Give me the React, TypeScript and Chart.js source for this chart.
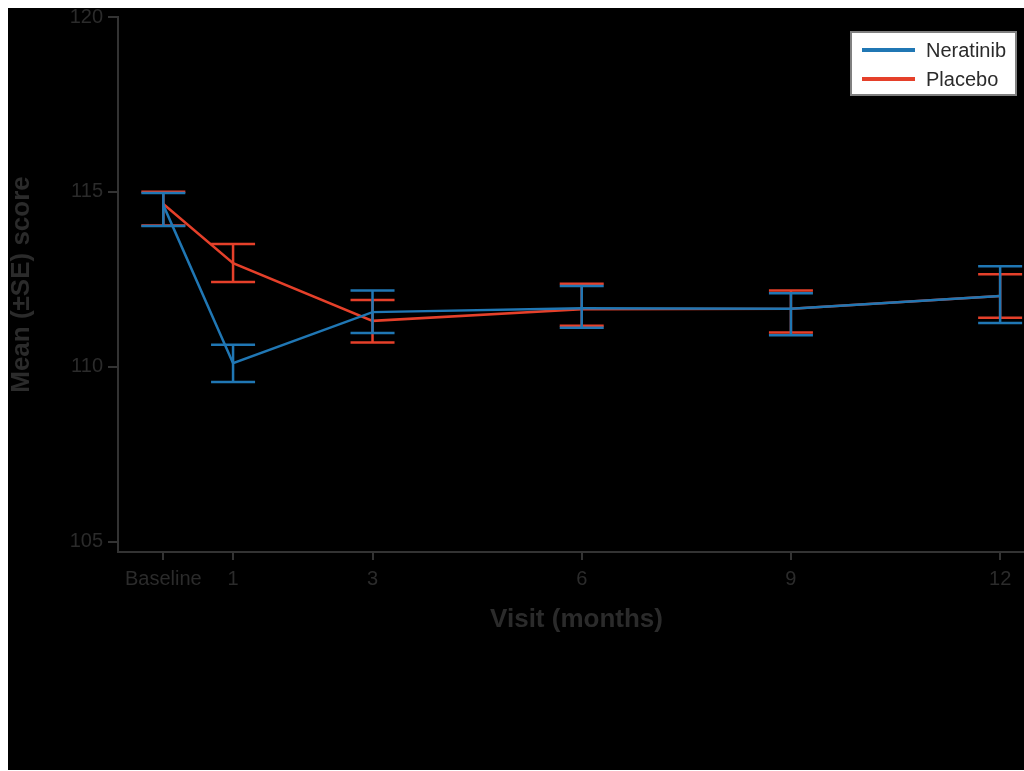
import { useEffect, useRef } from 'react';
import { Chart, registerables } from 'chart.js';

Chart.register(...registerables);

const months = [0, 1, 3, 6, 9, 12];
const xTickLabels = ['Baseline', '1', '3', '6', '9', '12'];
const yTickValues = [105, 110, 115, 120];
const seriesNames = ['Neratinib', 'Placebo'];

const neratinibMean = [114.62, 110.1, 111.56, 111.67, 111.66, 112.02];
const neratinibUpper = [114.97, 110.63, 112.18, 112.31, 112.1, 112.87];
const neratinibLower = [114.02, 109.56, 110.96, 111.11, 110.9, 111.25];

const placeboMean = [114.65, 112.96, 111.31, 111.64, 111.66, 112.02];
const placeboUpper = [115.0, 113.51, 111.91, 112.37, 112.18, 112.64];
const placeboLower = [114.04, 112.42, 110.69, 111.17, 110.98, 111.4];

const BLUE = '#2077b4';
const RED = '#e5402a';
const TEXT = '#2b2b2b';
const AXIS = '#333333';
const FONT = '"Liberation Sans", Arial, sans-serif';

const seriesColors = [BLUE, RED];
const errorBars = [
  { lower: neratinibLower, upper: neratinibUpper },
  { lower: placeboLower, upper: placeboUpper },
];

const errorBarPlugin = {
  id: 'errorBars',
  beforeDatasetDraw(chart: any, args: any) {
    const eb = errorBars[args.index];
    if (!eb) return;
    const { ctx, chartArea } = chart;
    const xs = chart.scales.x;
    const ys = chart.scales.y;
    ctx.save();
    ctx.beginPath();
    ctx.rect(chartArea.left, chartArea.top, chartArea.right - chartArea.left, chartArea.bottom - chartArea.top);
    ctx.clip();
    ctx.strokeStyle = seriesColors[args.index];
    ctx.lineWidth = 2.5;
    const cap = 22;
    months.forEach((m, i) => {
      const px = xs.getPixelForValue(m);
      const pl = ys.getPixelForValue(eb.lower[i]);
      const ph = ys.getPixelForValue(eb.upper[i]);
      ctx.beginPath();
      ctx.moveTo(px, pl);
      ctx.lineTo(px, ph);
      ctx.moveTo(px - cap, pl);
      ctx.lineTo(px + cap, pl);
      ctx.moveTo(px - cap, ph);
      ctx.lineTo(px + cap, ph);
      ctx.stroke();
    });
    ctx.restore();
  },
};

const legendPlugin = {
  id: 'boxLegend',
  afterDraw(chart: any) {
    const { ctx, chartArea } = chart;
    const w = 165;
    const h = 63;
    const left = chartArea.right - 19 - w;
    const top = chartArea.top + 15;
    ctx.save();
    ctx.fillStyle = '#ffffff';
    ctx.fillRect(left, top, w, h);
    ctx.strokeStyle = '#808080';
    ctx.lineWidth = 2;
    ctx.strokeRect(left, top, w, h);
    seriesNames.forEach((name, i) => {
      const yy = top + 18 + i * 29;
      ctx.strokeStyle = seriesColors[i];
      ctx.lineWidth = 4;
      ctx.beginPath();
      ctx.moveTo(left + 11, yy);
      ctx.lineTo(left + 64, yy);
      ctx.stroke();
      ctx.fillStyle = TEXT;
      ctx.font = `20px ${FONT}`;
      ctx.textBaseline = 'middle';
      ctx.textAlign = 'left';
      ctx.fillText(name, left + 75, yy + 1);
    });
    ctx.restore();
  },
};

export default function App() {
  const canvasRef = useRef<HTMLCanvasElement | null>(null);

  useEffect(() => {
    const prevHtml = document.documentElement.style.overflow;
    const prevMargin = document.body.style.margin;
    document.documentElement.style.overflow = 'hidden';
    document.body.style.margin = '8px 0 0 8px';
    if (!canvasRef.current) return;
    const chart = new Chart(canvasRef.current, {
      type: 'line',
      data: {
        datasets: [
          {
            label: seriesNames[0],
            data: months.map((m, i) => ({ x: m, y: neratinibMean[i] })),
            borderColor: BLUE,
            backgroundColor: BLUE,
            borderWidth: 2.5,
            pointRadius: 0,
            tension: 0,
          },
          {
            label: seriesNames[1],
            data: months.map((m, i) => ({ x: m, y: placeboMean[i] })),
            borderColor: RED,
            backgroundColor: RED,
            borderWidth: 2.5,
            pointRadius: 0,
            tension: 0,
          },
        ],
      },
      options: {
        responsive: false,
        animation: false,
        devicePixelRatio: 1,
        layout: { padding: { top: 9, left: 0, right: 0, bottom: 0 } },
        plugins: {
          legend: { display: false },
          tooltip: { enabled: false },
        },
        scales: {
          x: {
            type: 'linear',
            min: -0.65,
            max: 12.5,
            afterBuildTicks: (s: any) => {
              s.ticks = months.map((v) => ({ value: v }));
            },
            afterFit: (s: any) => {
              s.height = 218;
            },
            ticks: {
              autoSkip: false,
              maxRotation: 0,
              color: TEXT,
              padding: 7,
              font: { size: 20, family: FONT },
              callback: (v: any) => {
                const i = months.indexOf(Number(v));
                return i >= 0 ? xTickLabels[i] : '';
              },
            },
            grid: {
              drawOnChartArea: false,
              drawTicks: true,
              tickLength: 8,
              tickColor: AXIS,
              lineWidth: 2,
            },
            border: { display: true, color: AXIS, width: 2 },
            title: {
              display: true,
              text: 'Visit (months)',
              color: TEXT,
              font: { size: 26, weight: 'bold', family: FONT, lineHeight: 1.2 },
              padding: { top: 0, bottom: 135 },
            },
          },
          y: {
            type: 'linear',
            min: 104.7,
            max: 120,
            afterBuildTicks: (s: any) => {
              s.ticks = yTickValues.map((v) => ({ value: v }));
            },
            afterFit: (s: any) => {
              s.width = 110;
            },
            ticks: {
              color: TEXT,
              padding: 5,
              font: { size: 20, family: FONT, lineHeight: 0.4 },
              callback: (v: any) => String(v),
            },
            grid: {
              drawOnChartArea: false,
              drawTicks: true,
              tickLength: 10,
              tickColor: AXIS,
              lineWidth: 2,
            },
            border: { display: true, color: AXIS, width: 2 },
            title: {
              display: true,
              text: 'Mean (±SE) score',
              color: TEXT,
              font: { size: 26, weight: 'bold', family: FONT, lineHeight: 1.1 },
              padding: { top: 0, bottom: 0 },
            },
          },
        },
      } as any,
      plugins: [errorBarPlugin, legendPlugin],
    });
    return () => {
      chart.destroy();
      document.documentElement.style.overflow = prevHtml;
      document.body.style.margin = prevMargin;
    };
  }, []);

  return (
    <div style={{ width: 1016, height: 762, overflow: 'hidden', background: '#000' }}>
      <canvas ref={canvasRef} width={1027} height={762} style={{ display: 'block', background: '#000' }} />
    </div>
  );
}
